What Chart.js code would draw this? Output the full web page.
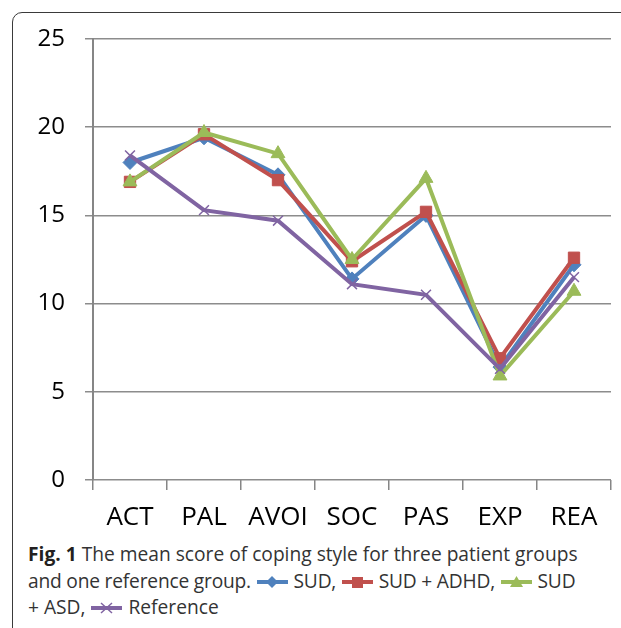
<!DOCTYPE html>
<html>
<head>
<meta charset="utf-8">
<script src="https://cdn.jsdelivr.net/npm/chart.js@4/dist/chart.umd.min.js"></script>
<style>
  body { margin: 0; background: #fff; width: 621px; height: 628px; overflow: hidden; position: relative; }
  #frame { position: absolute; left: 12px; top: 12px; width: 700px; height: 700px; border: 1.5px solid #3a3a3a; border-radius: 10px; }
  #wrap { position: absolute; left: 0; top: 0; width: 621px; height: 530px; }
  #caption { position: absolute; left: 28px; top: 541px; width: 580px; font-family: "Open Sans", sans-serif; font-size: 19.2px; letter-spacing: 0; color: #333; line-height: 26.5px; }
  #caption div { white-space: nowrap; }
  #caption .tight { letter-spacing: -0.2px; }
  #caption b { color: #231f20; }
  svg { vertical-align: -1px; margin: 0 1px; }
</style>
</head>
<body>
<div id="frame"></div>
<div id="wrap"><canvas id="chart" width="621" height="530"></canvas></div>
<div id="caption">
  <div><b>Fig. 1</b> The mean score of coping style for three patient groups</div>
  <div class="tight">and one reference group. <span id="k0"></span> SUD, <span id="k1"></span> SUD + ADHD, <span id="k2"></span> SUD</div>
  <div>+ ASD, <span id="k3"></span> Reference</div>
</div>
<script>
var categories = ["ACT", "PAL", "AVOI", "SOC", "PAS", "EXP", "REA"];
var seriesNames = ["SUD", "SUD + ADHD", "SUD + ASD", "Reference"];
var sud = [18.0, 19.4, 17.3, 11.4, 15.0, 6.4, 12.2];
var sudAdhd = [16.9, 19.6, 17.0, 12.4, 15.2, 6.9, 12.6];
var sudAsd = [16.9, 19.7, 18.5, 12.5, 17.1, 5.9, 10.7];
var reference = [18.4, 15.3, 14.7, 11.1, 10.5, 6.3, 11.5];
var yTicks = [0, 5, 10, 15, 20, 25];

var colors = ["#4F81BD", "#C0504D", "#9BBB59", "#8064A2"];
var shapes = ["rectRot", "rect", "triangle", "crossRot"];
var radii = [7, 8, 8, 7];
var allValues = [sud, sudAdhd, sudAsd, reference];

var datasets = allValues.map(function (vals, i) {
  return {
    label: seriesNames[i],
    data: vals,
    borderColor: colors[i],
    backgroundColor: colors[i],
    borderWidth: 4,
    pointStyle: shapes[i],
    pointRadius: radii[i],
    pointBorderWidth: i == 3 ? 1.5 : 1,
    pointBorderColor: colors[i],
    pointBackgroundColor: colors[i],
    tension: 0,
    order: 4 - i
  };
});

new Chart(document.getElementById("chart"), {
  type: "line",
  data: { labels: categories, datasets: datasets },
  options: {
    responsive: false,
    animation: false,
    layout: { padding: { top: 39, right: 10, left: 0, bottom: 0 } },
    plugins: { legend: { display: false }, tooltip: { enabled: false } },
    scales: {
      x: {
        offset: true,
        grid: { offset: true, drawOnChartArea: false, color: "#868686", lineWidth: 1.5, tickLength: 10 },
        border: { display: false },
        ticks: { color: "#000", font: { family: "'Open Sans', sans-serif", size: 26 }, padding: 12, maxRotation: 0, autoSkip: false },
        afterFit: function (s) { s.height = 50; }
      },
      y: {
        min: 0,
        max: 25,
        afterBuildTicks: function (s) { s.ticks = yTicks.map(function (v) { return { value: v }; }); },
        grid: { color: "#8c8c8c", lineWidth: 1.5, tickLength: 8 },
        border: { color: "#868686", width: 2 },
        ticks: { color: "#000", font: { family: "'Open Sans', sans-serif", size: 24 }, padding: 20 },
        afterFit: function (s) { s.width = 93; }
      }
    }
  }
});

// little legend keys inside the caption text
function key(i) {
  var c = colors[i];
  var m;
  if (i == 0) m = '<polygon points="15,1 21,7 15,13 9,7" fill="' + c + '"/>';
  else if (i == 1) m = '<rect x="10" y="2" width="11" height="11" fill="' + c + '"/>';
  else if (i == 2) m = '<polygon points="15.5,1 22,12 9,12" fill="' + c + '"/>';
  else m = '<path d="M10,2 L21,12 M21,2 L10,12" stroke="' + c + '" stroke-width="1.5"/>';
  return '<svg width="31" height="14" viewBox="0 0 31 14"><line x1="0" y1="7" x2="31" y2="7" stroke="' + c + '" stroke-width="4"/>' + m + '</svg>';
}
for (var i = 0; i < 4; i++) document.getElementById("k" + i).innerHTML = key(i);
</script>
</body>
</html>
